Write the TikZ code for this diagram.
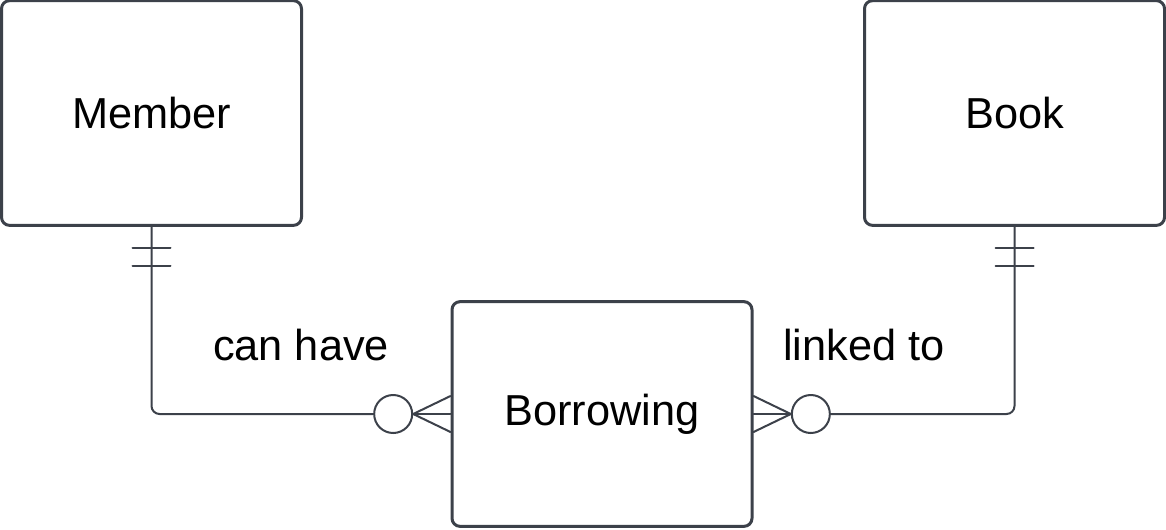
\documentclass[tikz,border=0pt]{standalone}
\usepackage{fontspec}
\setmainfont{Liberation Sans}
\usetikzlibrary{positioning}
\definecolor{sqsqsq}{rgb}{0.235,0.255,0.29}
\tikzstyle{every node}=[font=\fontsize{32.5}{38}\selectfont]
\tikzset{entity/.style={draw=sqsqsq,line width=2.25pt,rounded corners=6pt,minimum width=225pt,minimum height=168.5pt,fill=white},
  optional/.style={draw=sqsqsq,line width=1.5pt,circle,minimum size=28.5pt,inner sep=0pt,fill=white},
  conn/.style={draw=sqsqsq,line width=1.5pt}}

\begin{document}
\begin{tikzpicture}[line cap=round,line join=round,x=0.75pt,y=-0.75pt]
            \useasboundingbox (0,0) rectangle (1166,529);
            \node[entity] (member) at (151.5,113) {Member};
            \node[entity] (book) at (1014.5,113) {Book};
            \node[entity] (borrow) at (602,414) {Borrowing};
            \node[optional,left=28pt of borrow] (om) {};
            \node[optional,right=28pt of borrow] (ob) {};
            \node[anchor=base] (canhave) at (301,360) {can have};
            \node[anchor=base] (linked) at (864,360) {linked to};
            % member side
            \draw [conn,rounded corners=6pt] (member.south) |- (om.west);
            \draw [conn] ([shift={(-19,21)}]member.south) -- ++(38,0);
            \draw [conn] ([shift={(-19,39)}]member.south) -- ++(38,0);
            \draw [conn] (om.east) -- ([yshift=13.5pt]borrow.west);
            \draw [conn] (om.east) -- (borrow.west);
            \draw [conn] (om.east) -- ([yshift=-13.5pt]borrow.west);
            % book side
            \draw [conn,rounded corners=6pt] (book.south) |- (ob.east);
            \draw [conn] ([shift={(-19,21)}]book.south) -- ++(38,0);
            \draw [conn] ([shift={(-19,39)}]book.south) -- ++(38,0);
            \draw [conn] (ob.west) -- ([yshift=13.5pt]borrow.east);
            \draw [conn] (ob.west) -- (borrow.east);
            \draw [conn] (ob.west) -- ([yshift=-13.5pt]borrow.east);
            \end{tikzpicture}
\end{document}
